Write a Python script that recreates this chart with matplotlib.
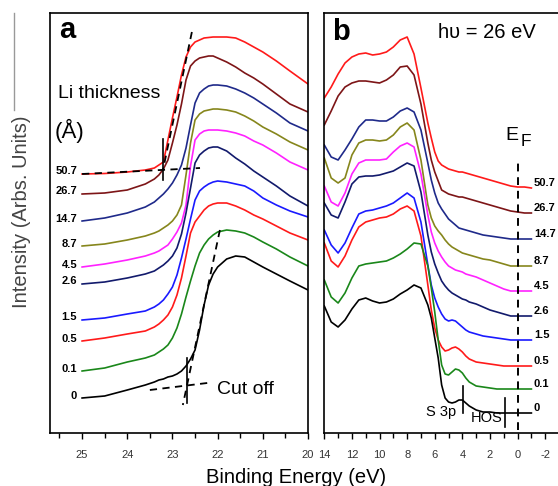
# Li on sulfur film: cut-off (a) and valence band (b) spectra
import matplotlib.pyplot as plt
from matplotlib.lines import Line2D
from matplotlib.ticker import MultipleLocator

plt.rcParams['font.family'] = ['Liberation Sans', 'DejaVu Sans']
plt.rcParams['axes.unicode_minus'] = False

# Li thickness (A), top curve first
thickness = ['50.7', '26.7', '14.7', '8.7', '4.5', '2.6', '1.5', '0.5', '0.1', '0']
colors = ['#ff1a1a', '#7d1517', '#1f2a8a', '#86861c', '#ff22ff',
          '#121a6c', '#1a1aff', '#ff1a1a', '#1a871a', '#000000']

# panel a - secondary electron cut-off
energy_a = [25.0, 24.5, 24.0, 23.6, 23.4, 23.3, 23.2, 23.1, 23.0, 22.9, 22.8, 22.7,
            22.6, 22.5, 22.4, 22.3, 22.2, 22.1, 22.0, 21.8, 21.6, 21.4, 21.2, 21.0,
            20.7, 20.4, 20.0]
cut_507 = [259, 259.5, 261, 263, 265, 268, 271, 293, 315, 336, 358, 376, 386, 391,
           393, 395, 395.5, 396, 396, 396, 395, 391, 386, 381, 372, 362, 349]
cut_267 = [239, 240, 243, 249, 254, 258, 264, 273, 290, 308, 329, 353, 367, 372,
           375, 376, 377, 377, 375, 371, 366, 360, 355, 349, 339, 329, 321]
cut_147 = [212, 215, 220, 226, 231, 235, 239, 244, 250, 258, 268, 285, 308, 330,
           340, 344, 347, 348, 348, 347, 344, 340, 335, 329, 320, 310, 302]
cut_87 = [187, 189, 193, 197, 200, 202, 205, 208, 212, 218, 228, 258, 290, 313,
          319, 322, 323, 324, 324, 323, 321, 317, 312, 306, 299, 291, 283]
cut_45 = [166, 169, 173, 177, 180, 182, 185, 188, 194, 201, 210, 228, 267, 293,
          299, 302, 303, 303, 303, 302, 300, 297, 292, 288, 280, 271, 263]
cut_26 = [149, 151, 155, 159, 162, 165, 168, 172, 177, 185, 199, 220, 245, 270,
          278, 282, 285, 286, 286, 282, 275, 269, 262, 256, 247, 237, 227]
cut_15 = [113, 115, 119, 122, 126, 129, 133, 139, 146, 158, 175, 194, 214, 233,
          242, 246, 249, 251, 252, 251, 249, 247, 242, 235, 228, 222, 216]
cut_05 = [92, 95, 99, 102, 106, 109, 113, 118, 126, 138, 155, 177, 200, 211,
          217, 223, 227, 229, 230, 230, 227, 223, 218, 214, 207, 200, 193]
cut_01 = [62, 65, 71, 75, 78, 81, 84, 88, 95, 105, 119, 136, 152, 167,
          180, 188, 194, 198, 201, 203, 202, 200, 196, 191, 184, 176, 167]
cut_0 = [35, 37, 43, 48, 51, 53, 54, 56, 57, 59, 62, 67, 74, 83,
         103, 128, 148, 159, 166, 174, 177, 176, 171, 166, 159, 152, 143]
cutoff = [cut_507, cut_267, cut_147, cut_87, cut_45, cut_26, cut_15, cut_05, cut_01, cut_0]

# panel b - valence band
energy_b = [14, 13.5, 13, 12.5, 12, 11.5, 11, 10.5, 10, 9.5, 9, 8.5, 8, 7.5, 7, 6.5,
            6.25, 6, 5.75, 5.5, 5.25, 5, 4.75, 4.5, 4.25, 4, 3.75, 3.5, 3, 2.5, 2,
            1.5, 1, 0.5, 0, -0.5, -1]
vb_507 = [335, 346, 359, 370, 376, 379, 380, 378, 379, 381, 386, 393, 396, 379, 345, 310,
          295, 281, 272, 268, 266, 264, 263, 262, 261, 261, 260, 259, 257, 255, 253,
          251, 249, 247, 246, 246, 245]
vb_267 = [308, 322, 337, 346, 350, 352, 352, 351, 350, 353, 358, 366, 367, 358, 329, 290,
          273, 261, 252, 243, 241, 239, 238, 237, 236, 236, 235, 234, 232, 230, 228,
          226, 224, 222, 221, 220, 220]
vb_147 = [288, 276, 273, 283, 294, 306, 313, 313, 312, 312, 316, 322, 325, 321, 303, 270,
          253, 240, 230, 224, 219, 214, 211, 208, 205, 204, 203, 202, 200, 198, 197,
          196, 195, 194, 194, 194, 194]
vb_87 = [275, 255, 250, 255, 278, 290, 293, 293, 292, 293, 298, 306, 310, 303, 273, 228,
         215, 207, 202, 198, 193, 189, 186, 184, 182, 180, 179, 178, 176, 174, 173,
         171, 169, 167, 167, 167, 167]
vb_45 = [247, 231, 227, 240, 259, 270, 273, 273, 273, 274, 281, 287, 290, 286, 259, 218,
         201, 190, 182, 176, 171, 167, 165, 163, 162, 161, 159, 158, 156, 153, 150,
         147, 144, 142, 142, 142, 142]
vb_26 = [230, 218, 215, 231, 249, 256, 257, 257, 258, 260, 262, 266, 270, 267, 241, 198,
         181, 169, 160, 152, 147, 143, 140, 138, 136, 134, 133, 131, 129, 126, 123,
         121, 119, 117, 117, 117, 117]
vb_15 = [203, 188, 180, 190, 205, 219, 222, 223, 225, 227, 230, 235, 240, 235, 211, 168,
         148, 135, 126, 119, 114, 112, 113, 112, 109, 106, 103, 101, 99, 97, 96,
         95, 94, 93, 93, 93, 93]
vb_05 = [190, 172, 166, 177, 193, 206, 211, 213, 215, 216, 219, 224, 227, 222, 197, 148,
         123, 105, 93, 86, 82, 83, 85, 86, 84, 81, 77, 74, 71, 70, 69,
         68, 67, 67, 67, 67, 67]
vb_01 = [153, 136, 130, 140, 155, 167, 169, 170, 171, 172, 175, 179, 184, 190, 189, 167,
         145, 121, 93, 68, 59, 58, 61, 64, 63, 60, 55, 51, 47, 46, 45,
         44, 44, 44, 44, 44, 44]
vb_0 = [127, 111, 106, 113, 124, 133, 135, 132, 130, 131, 134, 139, 143, 148, 145, 128,
        115, 95, 75, 48, 35, 31, 30, 31, 33, 33, 30, 27, 23, 21, 21,
        20, 20, 20, 20, 20, 20]
valence = [vb_507, vb_267, vb_147, vb_87, vb_45, vb_26, vb_15, vb_05, vb_01, vb_0]

fig = plt.figure(figsize=(5.58, 4.86), dpi=100)
ax_a = fig.add_axes([50 / 558, 53 / 486, 258 / 558, 420 / 486])
ax_b = fig.add_axes([324.3 / 558, 53 / 486, 234.7 / 558, 420 / 486])

for ax in (ax_a, ax_b):
    ax.set_ylim(0, 420)
    ax.set_yticks([])
    for s in ax.spines.values():
        s.set_linewidth(1.2)
    ax.tick_params(axis='x', direction='out', length=4.5, width=1, pad=8,
                   labelsize=8, labelcolor='#333333')
    ax.tick_params(axis='x', which='minor', direction='out', length=3.5, width=1)

# panel a
for y, c, lab in zip(cutoff, colors, thickness):
    ax_a.plot(energy_a, y, color=c, lw=1.2)
    ax_a.text(25.11, y[0] + 2.5, lab, ha='right', va='center', fontsize=8,
              fontweight='bold')

dash = dict(color='black', lw=1.3, dashes=(4, 3))
ax_a.plot([22.57, 23.21], [401, 263], **dash)
ax_a.plot([25.0, 22.39], [259, 265], **dash)
ax_a.plot([23.21, 23.21], [253, 294], color='black', lw=1.2)
ax_a.plot([21.95, 22.77], [203, 28], **dash)
ax_a.plot([23.50, 22.23], [43, 50], **dash)
ax_a.plot([22.68, 22.68], [30, 75], color='black', lw=1.2)

ax_a.text(25.33, 403, 'a', fontsize=21, fontweight='bold', ha='center', va='center')
ax_a.text(25.53, 340, 'Li thickness', fontsize=14, va='center')
ax_a.text(25.60, 302, '(Å)', fontsize=16, va='center')
ax_a.text(22.01, 44, 'Cut off', fontsize=14, va='center')

ax_a.set_xlim(25.71, 20)
ax_a.xaxis.set_major_locator(MultipleLocator(1))
ax_a.xaxis.set_minor_locator(MultipleLocator(0.5))

# panel b
for y, c, lab in zip(valence, colors, thickness):
    ax_b.plot(energy_b, y, color=c, lw=1.2)
    ax_b.text(-1.18, y[-1] + 5, lab, ha='left', va='center', fontsize=8,
              fontweight='bold')

ax_b.plot([0, 0], [3, 275], color='black', lw=1.4, dashes=(4, 3))
ax_b.plot([3.94, 3.94], [20, 47], color='black', lw=1.2)
ax_b.plot([0.9, 0.9], [6, 35], color='black', lw=1.2)

ax_b.text(12.79, 401, 'b', fontsize=21, fontweight='bold', ha='center', va='center')
ax_b.text(5.76, 400, 'hυ = 26 eV', fontsize=14.5, va='center')
ax_b.text(0.85, 298, 'E', fontsize=14, va='center')
ax_b.text(-0.2, 291, 'F', fontsize=12.5, va='center')
ax_b.text(6.6, 21, 'S 3p', fontsize=10.5, va='center')
ax_b.text(3.4, 15, 'HOS', fontsize=10.5, va='center')

ax_b.set_xlim(14, -3.0)
ax_b.xaxis.set_major_locator(MultipleLocator(2))
ax_b.xaxis.set_minor_locator(MultipleLocator(1))

fig.text(296 / 558, 1 - 483 / 486, 'Binding Energy (eV)', ha='center', va='baseline',
         fontsize=14.5)
fig.text(22 / 558, 1 - 212 / 486, 'Intensity (Arbs. Units)', rotation=90,
         ha='center', va='center', fontsize=14.5, color='#444444')
fig.add_artist(Line2D([14 / 558, 14 / 558], [1 - 13 / 486, 1 - 110 / 486],
                      color='#999999', lw=1))

fig.savefig('out.png', dpi=100)
